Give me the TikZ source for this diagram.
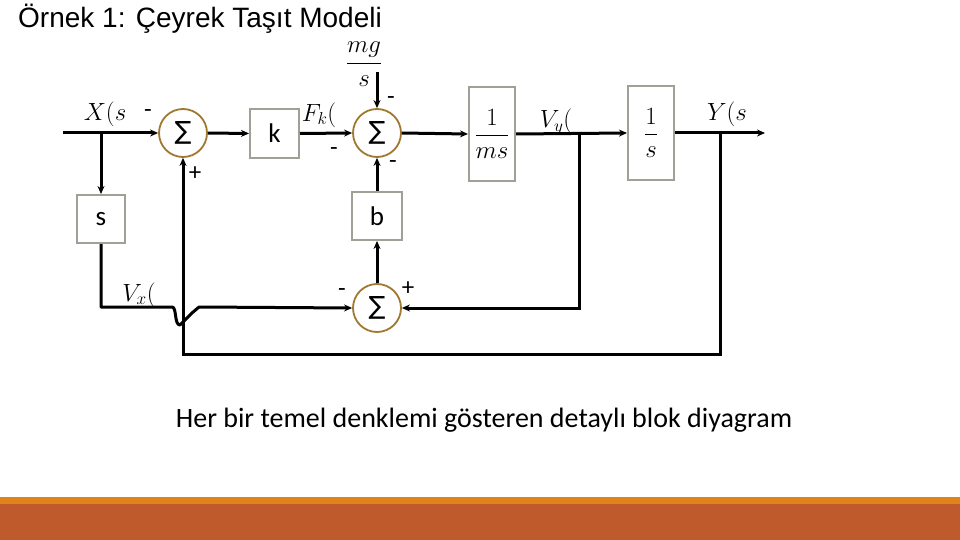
\documentclass[tikz,border=0pt]{standalone}
\usepackage{fontspec}
\setmainfont{Carlito}
\newfontfamily\titlefont{Liberation Sans}
\newfontfamily\symfont{DejaVu Sans}
\usetikzlibrary{arrows.meta}
\definecolor{barorange}{HTML}{E08419}
\definecolor{bardark}{HTML}{BE5A2C}
\definecolor{sumring}{HTML}{A07830}
\definecolor{boxgray}{HTML}{A0A096}
\begin{document}
\begin{tikzpicture}[x=1pt,y=-1pt,
  sumnode/.style={circle,draw=sumring,line width=1.8pt,minimum size=48pt,inner sep=0pt,font=\symfont\fontsize{25}{25}\selectfont},
  blk/.style={rectangle,draw=boxgray,line width=2pt,inner sep=0pt},
  wire/.style={line width=3pt,draw=black},
  arr/.style={wire,-{Stealth[length=8pt,width=7pt]}},
  sgn/.style={font=\fontsize{25}{25}\selectfont,inner sep=0pt},
  lbl/.style={font=\fontsize{27}{27}\selectfont,inner sep=0pt},
  boxtxt/.style={font=\fontsize{27}{27}\selectfont}]
\useasboundingbox (0,0) rectangle (960,540);
\fill[white] (0,0) rectangle (960,540);
% bars
\fill[barorange] (0,497) rectangle (960,504);
\fill[bardark] (0,504) rectangle (960,540);
% title
\node[anchor=west,inner sep=0pt,font=\titlefont\fontsize{28}{28}\selectfont] (title) at (18,19) {Örnek 1: Çeyrek Taşıt Modeli};
% nodes
\node[sumnode] (s1) at (183,133) {∑};
\node[blk,minimum width=49pt,minimum height=49pt,boxtxt] (k) at (274.5,133.5) {k};
\node[sumnode] (s2) at (377,133) {∑};
\node[blk,minimum width=46pt,minimum height=94pt] (ms) at (492,134) {\fontsize{26}{26}\selectfont$\displaystyle\frac{1}{ms}$};
\node[blk,minimum width=46pt,minimum height=94pt] (is) at (651,133) {\fontsize{26}{26}\selectfont$\displaystyle\frac{1}{s}$};
\node[blk,minimum width=50pt,minimum height=48pt,boxtxt] (b) at (377,216) {b};
\node[sumnode] (s3) at (377,308) {∑};
\node[blk,minimum width=48pt,minimum height=48pt,boxtxt] (sb) at (101,219) {s};
% coordinates
\coordinate (xin) at (63,133);
\coordinate (xbr) at (101,133);
\coordinate (mgtop) at (377,72);
\coordinate (vybr) at (579,133);
\coordinate (vyd) at (579,308);
\coordinate (yout) at (765,133);
\coordinate (ybr) at (720,133);
\coordinate (yd) at (720,354);
\coordinate (bl) at (183,354);
\coordinate (sd) at (101,307);
\coordinate (h1) at (172,307);
\coordinate (h2) at (180,325);
\coordinate (h3) at (199,307);
% connectors
\draw[arr] (xin) -- (s1.west);
\draw[arr] (xbr) -- (sb.north);
\draw[arr] (s1.east) -- (k.west);
\draw[arr] (k.east) -- (s2.west);
\draw[arr] (mgtop) -- (s2.north);
\draw[arr] (s2.east) -- (ms.west);
\draw[arr] (ms.east) -- (is.west);
\draw[arr] (is.east) -- (yout);
\draw[arr] (vybr) -- (vyd) -- (s3.east);
\draw[arr] (ybr) -- (yd) -- (bl) -- (s1.south);
\draw[arr] (b.north) -- (s2.south);
\draw[arr] (s3.north) -- (b.south);
\draw[arr,line join=round] (sb.south) -- (sd) -- (h1) .. controls (177,307) and (174,325) .. (h2) -- (192,313) -- (h3) -- (s3.west);
% labels
\node[lbl] (lx) at (105,114) {$X(s$};
\node[sgn] (m1) at (148,114) {-};
\node[sgn] (p1) at (195,174) {+};
\node[lbl] (lf) at (319,115) {$F_k($};
\node[inner sep=0pt] (lmg) at (364,64) {\fontsize{24}{24}\selectfont$\displaystyle\frac{mg}{s}$};
\node[sgn] (m2) at (391,101) {-};
\node[sgn] (m3) at (334,152) {-};
\node[sgn] (m4) at (393,165) {-};
\node[lbl] (lvy) at (556,122) {$V_y($};
\node[lbl] (ly) at (727,114) {$Y(s$};
\node[sgn] (m5) at (342,293) {-};
\node[sgn] (p2) at (408,289) {+};
\node[lbl] (lvx) at (139,295) {$V_x($};
\node[inner sep=0pt,font=\fontsize{28}{28}\selectfont] (cap) at (484,420) {Her bir temel denklemi gösteren detaylı blok diyagram};
\end{tikzpicture}
\end{document}
